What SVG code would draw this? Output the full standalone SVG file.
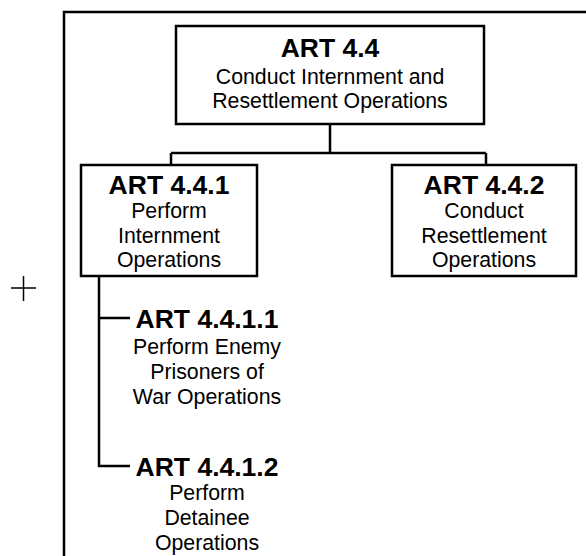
<svg xmlns="http://www.w3.org/2000/svg" width="586" height="556" viewBox="0 0 586 556">
<style>
.box{fill:#fff;stroke:#000;stroke-width:2.5}
.ln{fill:none;stroke:#000;stroke-width:2.5}
.t{font-family:"Liberation Sans",Arial,sans-serif;font-size:26.5px;font-weight:bold;text-anchor:middle;fill:#000}
.s{font-family:"Liberation Sans",Arial,sans-serif;font-size:21.3px;text-anchor:middle;fill:#000}
</style>
<rect width="586" height="556" fill="#fff"/>
<g id="frame">
<path class="ln" d="M64,560 V12 H590"/>
<path d="M11,288 H36 M23.5,276 V301" stroke="#000" stroke-width="1.5" fill="none"/>
</g>
<g id="connectors">
<path class="ln" d="M330,124 V153 M171,153 H486 M171,153 V165 M486,153 V165"/>
<path class="ln" d="M99,276 V466 H130 M99,318 H130"/>
</g>
<g id="art44">
<rect class="box" x="176" y="26" width="308" height="98"/>
<text class="t" x="330" y="57">ART 4.4</text>
<text class="s" x="330" y="84">Conduct Internment and</text>
<text class="s" x="330" y="108">Resettlement Operations</text>
</g>
<g id="art441">
<rect class="box" x="81" y="165" width="176" height="111"/>
<text class="t" x="169" y="194">ART 4.4.1</text>
<text class="s" x="169" y="218">Perform</text>
<text class="s" x="169" y="243">Internment</text>
<text class="s" x="169" y="267">Operations</text>
</g>
<g id="art442">
<rect class="box" x="392" y="165" width="184" height="111"/>
<text class="t" x="484" y="194">ART 4.4.2</text>
<text class="s" x="484" y="218">Conduct</text>
<text class="s" x="484" y="243">Resettlement</text>
<text class="s" x="484" y="267">Operations</text>
</g>
<g id="art4411">
<text class="t" x="207" y="328">ART 4.4.1.1</text>
<text class="s" x="207" y="354">Perform Enemy</text>
<text class="s" x="207" y="379">Prisoners of</text>
<text class="s" x="207" y="404">War Operations</text>
</g>
<g id="art4412">
<text class="t" x="207" y="476">ART 4.4.1.2</text>
<text class="s" x="207" y="500">Perform</text>
<text class="s" x="207" y="525">Detainee</text>
<text class="s" x="207" y="550">Operations</text>
</g>
</svg>
